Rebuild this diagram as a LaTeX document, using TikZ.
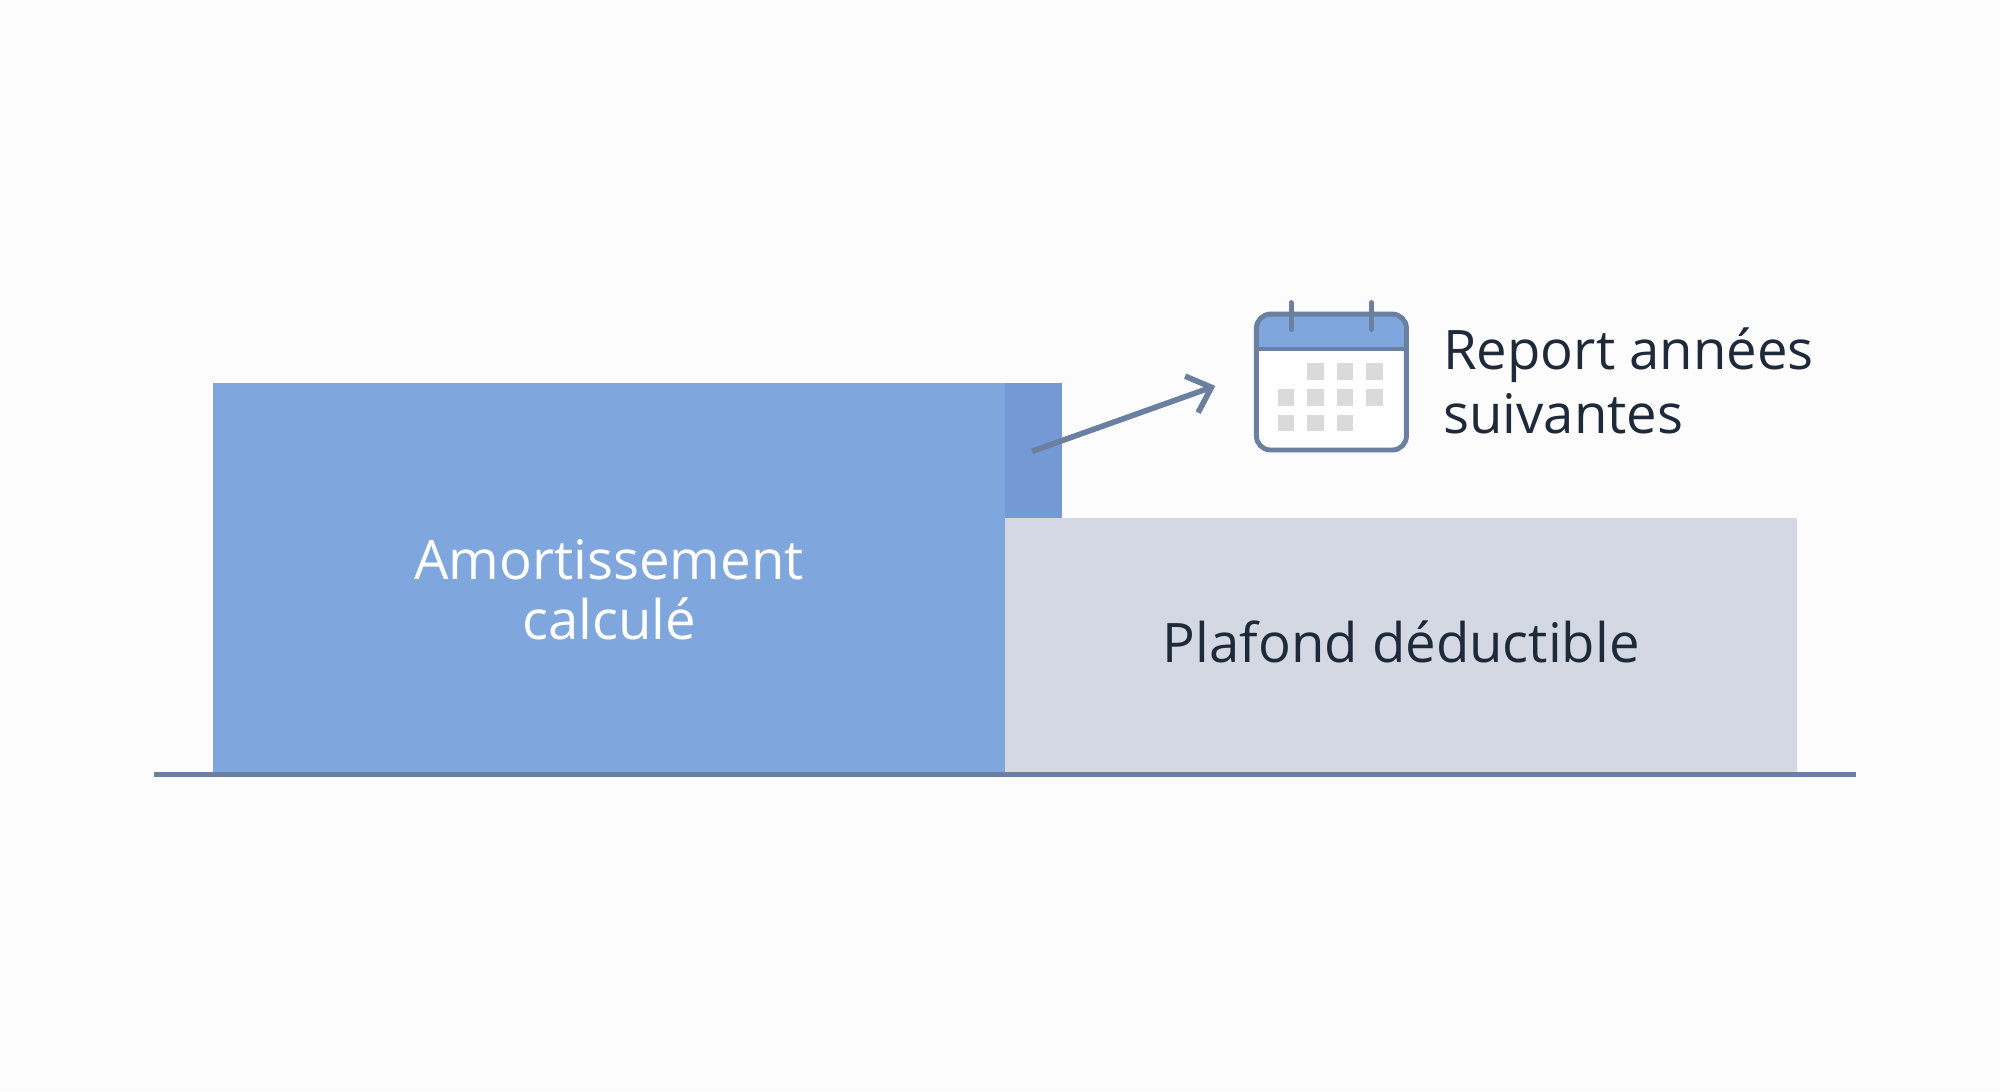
\documentclass[tikz,border=0pt]{standalone}
\usepackage{fontspec}
\setmainfont{Open Sans}
\usetikzlibrary{arrows.meta}
\definecolor{barblue}{HTML}{7FA6DD}
\definecolor{stripblue}{HTML}{7499D5}
\definecolor{bargray}{HTML}{D3D8E2}
\definecolor{axisline}{HTML}{6B80A0}
\definecolor{inkdark}{HTML}{1E2A3A}
\definecolor{cellgray}{HTML}{DADADA}
\tikzset{
    label text/.style={font=\fontsize{15.5}{19}\selectfont, align=center},
    cell/.style={fill=cellgray, minimum size=13*0.01282cm, inner sep=0pt}
}
\begin{document}
\begin{tikzpicture}[x=0.01282cm, y=-0.01282cm]
    \useasboundingbox (0,0) rectangle (1560,851);
    \fill[white!99!black] (0,0) rectangle (1560,851);

        % bars
        \fill[barblue] (166,299) rectangle (784,604);
        \fill[stripblue] (784,299) rectangle (828,404);
        \fill[bargray] (784,404) rectangle (1402,604);
        \draw[axisline, line width=1.6pt] (120,604) -- (1448,604);

        \node[label text, text=white] (amort) at (475,460) {Amortissement\\[-2pt]calculé};
        \node[label text, text=inkdark] (plafond) at (1093,501) {Plafond déductible};

        % calendar
        \coordinate (start) at (805,352);
        \coordinate (tip) at (948,301);
        \draw[axisline, line width=1.6pt, -{Straight Barb[length=6pt,width=11pt]}] (start) -- (tip);

        \begin{scope}
            \clip[rounded corners=4pt] (980,245) rectangle (1097,351);
            \fill[white] (980,245) rectangle (1097,351);
            \fill[barblue] (980,245) rectangle (1097,272);
        \end{scope}
        \draw[axisline, line width=1.4pt, rounded corners=4pt] (980,245) rectangle (1097,351);
        \draw[axisline, line width=1.1pt] (980,272) -- (1097,272);
        \foreach \x in {1007,1070}
        {
            \draw[axisline, line width=1.4pt, line cap=round] (\x,236) -- (\x,257);
        }
        \foreach \x in {1026,1049,1072}
        {
            \node[cell] at (\x,290) {};
            \node[cell] at (\x-23,330) {};
        }
        \foreach \x in {1003,1026,1049,1072}
        {
            \node[cell] at (\x,310) {};
        }

        \node[label text, text=inkdark, align=left, anchor=west] (report) at (1116,297) {Report années\\[-1pt]suivantes};
\end{tikzpicture}
\end{document}
